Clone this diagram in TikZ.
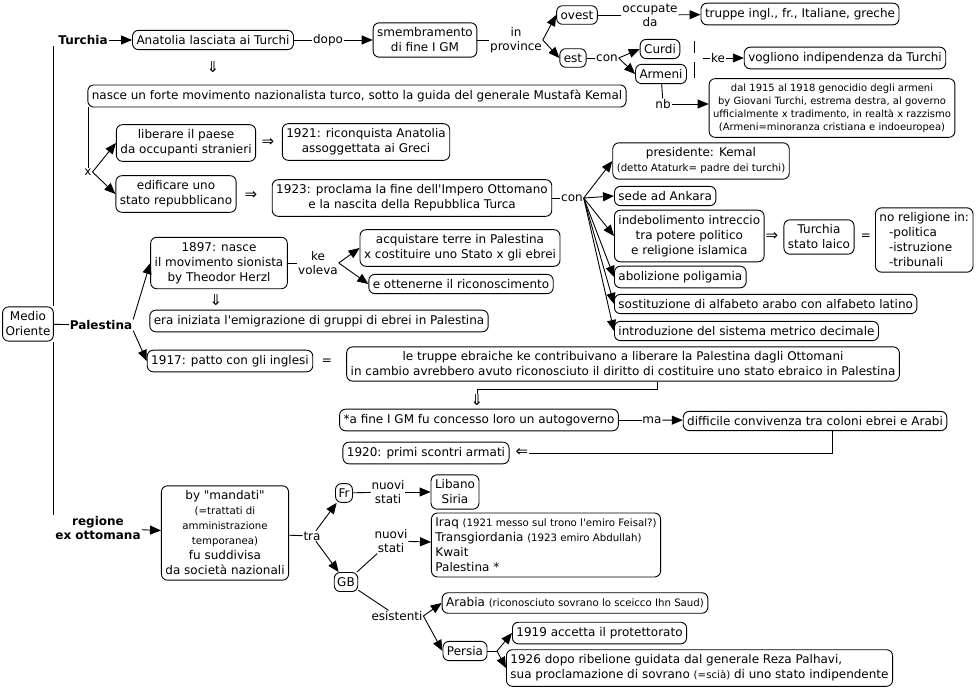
\documentclass[tikz,border=0pt]{standalone}
\usepackage{fontspec}
\setmainfont{DejaVu Sans}[Ligatures=TeXOff]
\usetikzlibrary{arrows.meta}
\newcommand{\piccolo}{\fontsize{10.2}{12}\selectfont}
\newcommand{\medio}{\fontsize{10}{13}\selectfont}
\tikzset{
  concetto/.style={draw, rounded corners=6pt, align=center, inner xsep=4pt, inner ysep=5pt,
    font=\fontsize{12}{15}\selectfont},
  legame/.style={align=center, inner sep=0.5pt, font=\fontsize{12}{14}\selectfont},
  titolo/.style={legame, font=\fontsize{12}{14}\selectfont\bfseries},
  simbolo/.style={legame, font=\fontsize{15}{15}\selectfont},
  freccia/.style={-{Triangle[length=11pt,width=9pt]}},
}
\begin{document}
\begin{tikzpicture}[x=1pt,y=-1pt,line width=0.9pt]
\useasboundingbox (0,0) rectangle (979,690);

% Turchia
\node[titolo] (turchia) at (83,40) {Turchia};
\node[concetto] (anatolia) at (213,40) {Anatolia lasciata ai Turchi};
\node[legame] (dopo) at (328,40) {dopo};
\node[concetto] (smemb) at (425,40) {smembramento\\di fine I GM};
\node[legame] (inprov) at (516,40) {in\\province};
\node[concetto] (ovest) at (577,15) {ovest};
\node[concetto] (est) at (573,58) {est};
\node[legame] (occupate) at (650,15) {occupate\\da};
\node[concetto] (truppe) at (800,14) {truppe ingl., fr., Italiane, greche};
\node[legame] (con1) at (607,58) {con};
\node[concetto] (curdi) at (660,49) {Curdi};
\node[concetto] (armeni) at (661,74) {Armeni};
\coordinate (gruppo) at (703,58);
\node[legame] (ke1) at (718,58) {ke};
\node[concetto] (vogliono) at (845,58) {vogliono indipendenza da Turchi};
\node[legame] (nb) at (663,104) {nb};
\node[concetto, font=\medio] (genoc) at (832,108) {dal 1915 al 1918 genocidio degli armeni\\by Giovani Turchi, estrema destra, al governo\\ufficialmente x tradimento, in realtà x razzismo\\(Armeni=minoranza cristiana e indoeuropea)};
\node[simbolo] (impl1) at (213,67) {⇓};
\node[concetto] (nasce) at (357,96) {nasce un forte movimento nazionalista turco, sotto la guida del generale Mustafà Kemal};
\node[legame] (xlab) at (88,172) {x};
\node[concetto] (liberare) at (186,143) {liberare il paese\\da occupanti stranieri};
\node[simbolo] (impl2) at (268,143) {⇒};
\node[concetto] (r1921) at (366,142) {1921: riconquista Anatolia\\assoggettata ai Greci};
\node[concetto] (edificare) at (176,194) {edificare uno\\stato repubblicano};
\node[simbolo] (impl3) at (251,196) {⇒};
\node[concetto] (r1923) at (412,198) {1923: proclama la fine dell'Impero Ottomano\\e la nascita della Repubblica Turca};
\node[legame] (con2) at (572,198) {con};
\node[concetto] (presid) at (701,161) {presidente: Kemal\\\piccolo(detto Ataturk= padre dei turchi)};
\node[concetto, anchor=west] (sede) at (614,196) {sede ad Ankara};
\node[concetto, anchor=west] (indeb) at (614,236) {indebolimento intreccio\\tra potere politico\\e religione islamica};
\node[simbolo] (impl4) at (772,237) {⇒};
\node[concetto] (laico) at (819,237) {Turchia\\stato laico};
\node[legame] (uguale1) at (866,237) {=};
\node[concetto, anchor=west, align=left] (norelig) at (875,240) {no religione in:\\\hspace*{0.8em}-politica\\\hspace*{0.8em}-istruzione\\\hspace*{0.8em}-tribunali};
\node[concetto, anchor=west] (abol) at (614,277) {abolizione poligamia};
\node[concetto, anchor=west] (sostit) at (614,304) {sostituzione di alfabeto arabo con alfabeto latino};
\node[concetto, anchor=west] (introd) at (614,331) {introduzione del sistema metrico decimale};

% Medio Oriente e Palestina
\node[concetto, inner xsep=3pt] (medio) at (28,324) {Medio\\Oriente};
\node[titolo] (palestina) at (101,325) {Palestina};
\node[concetto] (r1897) at (219,263) {1897: nasce\\il movimento sionista\\by Theodor Herzl};
\node[legame] (kevoleva) at (318,263) {ke\\voleva};
\node[concetto] (acquist) at (460,248) {acquistare terre in Palestina\\x costituire uno Stato x gli ebrei};
\node[concetto] (ottenerne) at (461,284) {e ottenerne il riconoscimento};
\node[simbolo] (impl5) at (216,300) {⇓};
\node[concetto] (emigr) at (319,321) {era iniziata l'emigrazione di gruppi di ebrei in Palestina};
\node[concetto] (r1917) at (230,361) {1917: patto con gli inglesi};
\node[legame] (uguale2) at (327,362) {=};
\node[concetto] (ltruppe) at (623,364) {le truppe ebraiche ke contribuivano a liberare la Palestina dagli Ottomani\\in cambio avrebbero avuto riconosciuto il diritto di costituire uno stato ebraico in Palestina};
\node[simbolo] (impl6) at (477,400) {⇓};
\node[concetto] (afine) at (479,420) {*a fine I GM fu concesso loro un autogoverno};
\node[legame] (ma) at (652,420) {ma};
\node[concetto] (difficile) at (815,421) {difficile convivenza tra coloni ebrei e Arabi};
\node[simbolo] (impl7) at (522,453) {⇐};
\node[concetto] (r1920) at (426,453) {1920: primi scontri armati};

% regione ex ottomana
\node[titolo] (regione) at (98,528) {regione\\ex ottomana};
\node[concetto] (mandati) at (225,533) {by "mandati"\\\piccolo(=trattati di\\\piccolo amministrazione\\\piccolo temporanea)\\fu suddivisa\\da società nazionali};
\node[legame] (tra) at (312,536) {tra};
\node[concetto, inner xsep=3pt] (fr) at (344,493) {Fr};
\node[concetto, inner xsep=3pt] (gb) at (346,582) {GB};
\node[legame] (nuovi1) at (388,492) {nuovi\\stati};
\node[concetto] (libano) at (455,492) {Libano\\Siria};
\node[legame] (nuovi2) at (391,541) {nuovi\\stati};
\node[concetto, align=left] (iraq) at (546,545) {Iraq {\piccolo(1921 messo sul trono l'emiro Feisal?)}\\Transgiordania {\piccolo(1923 emiro Abdullah)}\\Kwait\\Palestina *};
\node[legame] (esistenti) at (397,616) {esistenti};
\node[concetto] (arabia) at (575,603) {Arabia {\piccolo(riconosciuto sovrano lo sceicco Ihn Saud)}};
\node[concetto] (persia) at (465,651) {Persia};
\coordinate (biv) at (497,651);
\node[concetto, anchor=west] (r1919) at (512,633) {1919 accetta il protettorato};
\node[concetto, anchor=west, align=left] (r1926) at (506,668) {1926 dopo ribelione guidata dal generale Reza Palhavi,\\sua proclamazione di sovrano {\piccolo(=scià)} di uno stato indipendente};

% collegamenti
\draw (medio.north east) -- (medio.north east |- turchia.south);
\draw (medio.south east) -- (medio.south east |- regione.north);
\draw (medio) -- (palestina);
\draw[freccia] (turchia) -- (anatolia);
\draw (anatolia) -- (dopo);
\draw[freccia] (dopo) -- (smemb);
\draw (smemb) -- (inprov);
\draw[freccia] (inprov.east) -- (ovest.west);
\draw[freccia] (inprov.east) -- (est.west);
\draw (ovest) -- (occupate);
\draw[freccia] (occupate) -- (truppe);
\draw (est) -- (con1);
\draw[freccia] (con1.east) -- (curdi.west);
\draw[freccia] (con1.east) -- (armeni.west);
\draw (694,41) -- (694,53) (694,62) -- (694,78);
\draw (gruppo) -- (ke1);
\draw[freccia] (ke1) -- (vogliono);
\draw (armeni) -- (nb);
\draw[freccia] (nb.east) -- (nb.east -| genoc.west);
\draw (xlab |- nasce.south) -- (xlab);
\draw[freccia] (xlab.east) -- (liberare.west);
\draw[freccia] (xlab.east) -- (edificare.west);
\draw (r1923) -- (con2);
\foreach \n in {presid,sede,indeb,abol,sostit,introd}
  \draw[freccia] (con2.east) -- (\n.west);
\draw[freccia] (palestina.north east) -- (r1897.west);
\draw[freccia] (palestina.south east) -- (r1917.west);
\draw (r1897) -- (kevoleva);
\draw[freccia] (kevoleva.east) -- (acquist.west);
\draw[freccia] (kevoleva.east) -- (ottenerne.west);
\draw ([xshift=34pt]ltruppe.south) -- ++(0,8) -| (impl6.north);
\draw (afine) -- (ma);
\draw[freccia] (ma) -- (difficile);
\draw ([xshift=17pt]difficile.south) |- (impl7.east);
\draw[freccia] (regione) -- (mandati);
\draw (mandati) -- (tra);
\draw[freccia] (tra) -- (fr);
\draw[freccia] (tra) -- (gb);
\draw (fr) -- (nuovi1);
\draw[freccia] (nuovi1) -- (libano);
\draw (gb) -- (nuovi2);
\draw[freccia] (nuovi2) -- (iraq);
\draw (gb) -- (esistenti);
\draw[freccia] (esistenti.east) -- (arabia.west);
\draw[freccia] (esistenti.east) -- (persia.west);
\draw (persia) -- (biv);
\draw[freccia] (biv) -- (r1919.west);
\draw[freccia] (biv) -- (r1926.west);
\end{tikzpicture}
\end{document}
